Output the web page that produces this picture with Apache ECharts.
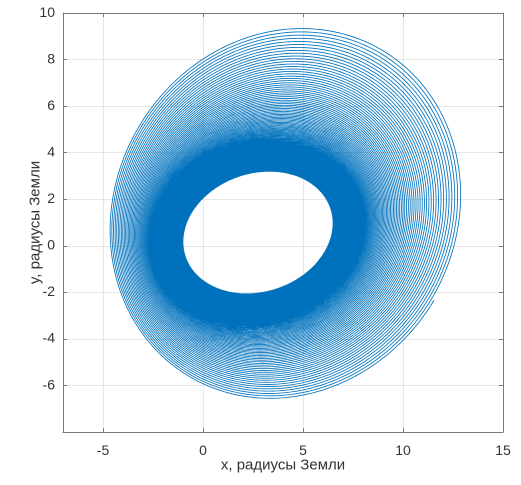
<!DOCTYPE html>
<html>
<head>
<meta charset="utf-8">
<script src="https://cdn.jsdelivr.net/npm/echarts@6/dist/echarts.min.js"></script>
<style>
  html, body { margin: 0; background: #fff; }
  #orbit { width: 521px; height: 485px; }
</style>
</head>
<body>
<div id="orbit"></div>
<script>
// ellipses of the first and the last turn
// [centerX, centerY, cosAmpX, sinAmpX, sinAmpY]
var innerTurn = [2.75, 0.57, 3.71, 0.57, 2.63];
var outerTurn = [4.17, 1.43, 8.81, 0.83, 8.0];
var turnCount = 145;
var endAngle = -0.49;        // last point near (11.7, -2.3)
var growth = 3.3;            // turns get sparser outwards
var xTicks = [-5, 0, 5, 10, 15];
var yTicks = [-6, -4, -2, 0, 2, 4, 6, 8, 10];

// trajectory traced through the turns between the two ellipses
var stepsPerTurn = 360.37;
var total = Math.round(turnCount * stepsPerTurn);
var path = [];
for (var i = 0; i <= total; i++) {
    var s = i / total;
    var g = (Math.exp(growth * s) - 1) / (Math.exp(growth) - 1);
    var p = innerTurn.map(function (v, k) { return v + (outerTurn[k] - v) * g; });
    var t = endAngle - 2 * Math.PI * turnCount * (1 - s);
    path.push([p[0] + p[2] * Math.cos(t) + p[3] * Math.sin(t), p[1] + p[4] * Math.sin(t)]);
}

var axisColor = '#7a7a7a';
var fontFamily = 'Liberation Sans, Arial, sans-serif';
var labelStyle = { color: '#333', fontSize: 14, fontFamily: fontFamily };

function xAxisOf(pos, labels) {
    return {
        type: 'value', min: -7, max: 15, position: pos,
        axisLine: { show: true, onZero: false, lineStyle: { color: axisColor } },
        axisTick: { show: true, inside: true, length: 4, customValues: xTicks, lineStyle: { color: axisColor } },
        axisLabel: labels ? Object.assign({ customValues: xTicks, margin: 12 }, labelStyle) : { show: false },
        splitLine: { show: labels, lineStyle: { color: '#e6e6e6', width: 1 } },
        name: labels ? 'x, радиусы Земли' : '',
        nameLocation: 'middle', nameGap: 26, nameMoveOverlap: false,
        nameTextStyle: { color: '#333', fontSize: 15, fontFamily: fontFamily }
    };
}
function yAxisOf(pos, labels) {
    return {
        type: 'value', min: -8, max: 10, position: pos,
        axisLine: { show: true, onZero: false, lineStyle: { color: axisColor } },
        axisTick: { show: true, inside: true, length: 4, customValues: yTicks, lineStyle: { color: axisColor } },
        axisLabel: labels ? Object.assign({ customValues: yTicks, margin: 8 }, labelStyle) : { show: false },
        splitLine: { show: labels, lineStyle: { color: '#e6e6e6', width: 1 } },
        name: labels ? 'y, радиусы Земли' : '',
        nameLocation: 'middle', nameGap: 20, nameMoveOverlap: false,
        nameTextStyle: { color: '#333', fontSize: 15, fontFamily: fontFamily }
    };
}

// drawn at double resolution, the page scales it down like the exported figure
var chart = echarts.init(document.getElementById('orbit'), null, { devicePixelRatio: 2 });
chart.setOption({
    animation: false,
    grid: { left: 63, right: 18, top: 13, bottom: 53 },
    xAxis: [xAxisOf('bottom', true), xAxisOf('top', false)],
    yAxis: [yAxisOf('left', true), yAxisOf('right', false)],
    series: [{
        type: 'line',
        data: path,
        showSymbol: false,
        symbol: 'none',
        silent: true,
        clip: true,
        lineStyle: { color: '#0072BD', width: 0.85 }
    }]
});
</script>
</body>
</html>
